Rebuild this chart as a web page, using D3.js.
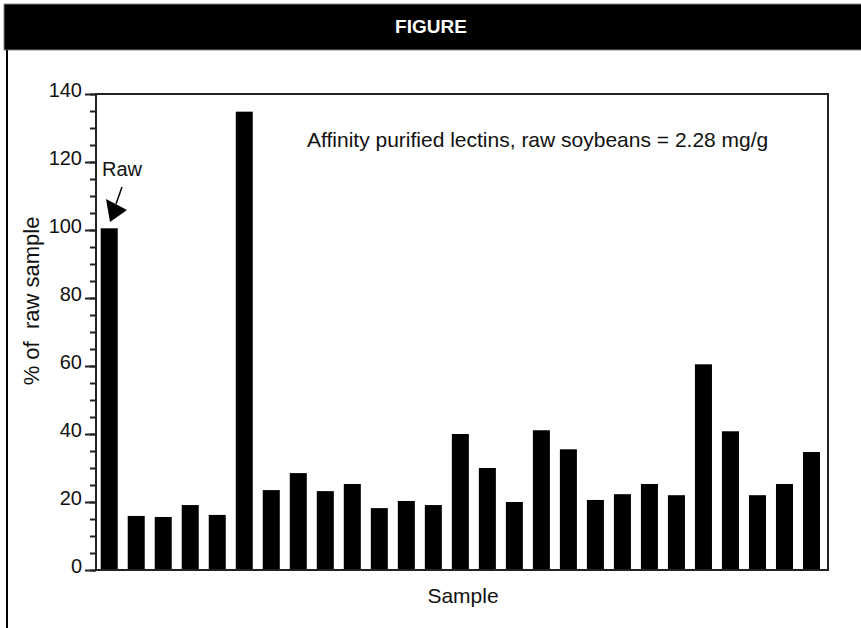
<!DOCTYPE html>
<html>
<head>
<meta charset="utf-8">
<script src="https://cdn.jsdelivr.net/npm/d3@7"></script>
<style>
  body { margin: 0; background: #fff; }
  svg { display: block; font-family: "Liberation Sans", Arial, sans-serif; }
</style>
</head>
<body>
<svg width="861" height="628"></svg>
<script>
const SAMPLES = d3.range(1, 28).map((i) => "S" + i);
const VALUES = [100.5, 15.9, 15.6, 19.1, 16.2, 134.8, 23.5, 28.5, 23.2, 25.3, 18.2, 20.3, 19.1,
  40, 30, 20, 41.1, 35.5, 20.6, 22.3, 25.3, 22, 60.5, 40.8, 22, 25.3, 34.7];
const Y_TICKS = [0, 20, 40, 60, 80, 100, 120, 140];
const Y_MINOR = d3.range(0, 141, 5);

const TITLE = "FIGURE";
const NOTE = "Affinity purified lectins, raw soybeans = 2.28 mg/g";

const svg = d3.select("svg");

// header band
svg.append("rect").attr("x", 4).attr("y", 4).attr("width", 870).attr("height", 46)
  .attr("fill", "#000").attr("stroke", "#888").attr("stroke-width", 1);
svg.append("text").attr("x", 431).attr("y", 33).attr("text-anchor", "middle")
  .attr("fill", "#fff").attr("font-weight", "bold").attr("font-size", 19).text(TITLE);
svg.append("line").attr("x1", 7).attr("x2", 7).attr("y1", 50).attr("y2", 628)
  .attr("stroke", "#000").attr("stroke-width", 2);

const plotLeft = 96, plotRight = 828, plotTop = 94, plotBottom = 570;

const x = d3.scaleBand().domain(SAMPLES).range([100.7, 820]).paddingInner(0.37).paddingOuter(0);
const y = d3.scaleLinear().domain([0, 140]).range([plotBottom, plotTop]);

// bars
svg.selectAll(".bar").data(VALUES).enter().append("rect")
  .attr("class", "bar")
  .attr("x", (d, i) => x(SAMPLES[i]))
  .attr("width", x.bandwidth())
  .attr("y", (d) => y(d))
  .attr("height", (d) => y(0) - y(d))
  .attr("fill", "#000");

// frame
svg.append("path")
  .attr("d", `M${plotLeft},${plotBottom}V${plotTop}H${plotRight}V${plotBottom}Z`)
  .attr("fill", "none").attr("stroke", "#222").attr("stroke-width", 2);

// minor ticks
const minor = svg.append("g").attr("transform", `translate(${plotLeft},0)`)
  .call(d3.axisLeft(y).tickValues(Y_MINOR).tickSize(6).tickFormat(""));
minor.select(".domain").remove();
minor.selectAll("line").attr("stroke", "#222").attr("stroke-width", 2);

// major ticks
const yAxis = svg.append("g").attr("transform", `translate(${plotLeft},0)`)
  .call(d3.axisLeft(y).tickValues(Y_TICKS).tickSize(11).tickPadding(0));
yAxis.select(".domain").remove();
yAxis.selectAll("line").attr("stroke", "#222").attr("stroke-width", 2);
yAxis.selectAll("text").attr("font-size", 20).attr("font-family", "Liberation Sans, Arial, sans-serif")
  .attr("fill", "#111").attr("dy", "2").attr("x", -14);

// axis titles
svg.append("text").attr("transform", "translate(38.5,301) rotate(-90)")
  .attr("text-anchor", "middle").attr("font-size", 22).attr("fill", "#111")
  .attr("xml:space", "preserve").text("% of  raw sample");
svg.append("text").attr("x", 463).attr("y", 603).attr("text-anchor", "middle")
  .attr("font-size", 21).attr("fill", "#111").text("Sample");

// note
svg.append("text").attr("x", 307).attr("y", 147).attr("font-size", 21).attr("fill", "#111").text(NOTE);

// "Raw" arrow
svg.append("text").attr("x", 102).attr("y", 176).attr("font-size", 20).attr("fill", "#111").text("Raw");
svg.append("line").attr("x1", 122).attr("y1", 187).attr("x2", 116).attr("y2", 204)
  .attr("stroke", "#000").attr("stroke-width", 1.5);
svg.append("path").attr("d", "M110,222L106,199L127,210Z").attr("fill", "#000");
</script>
</body>
</html>
